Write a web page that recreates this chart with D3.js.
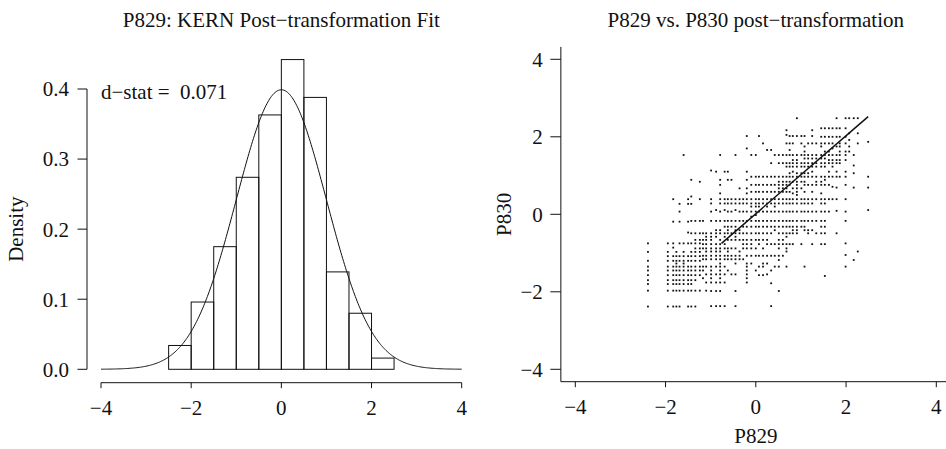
<!DOCTYPE html>
<html>
<head>
<meta charset="utf-8">
<script src="https://cdn.jsdelivr.net/npm/d3@7"></script>
<style>
  html, body { margin: 0; padding: 0; background: #fff; }
  svg { display: block; }
  text { font-family: "Liberation Serif", "Times New Roman", serif; fill: #111; }
</style>
</head>
<body>
<svg id="chart" width="946" height="449"></svg>
<script>
// ---- Histogram of P829 after transformation ----
const binEdges = [-2.5, -2, -1.5, -1, -0.5, 0, 0.5, 1, 1.5, 2, 2.5];
const binDensity = [0.034, 0.096, 0.175, 0.274, 0.363, 0.442, 0.388, 0.139, 0.080, 0.016];
const histXTicks = [-4, -2, 0, 2, 4];
const histYTicks = [0, 0.1, 0.2, 0.3, 0.4];
const fitMean = 0, fitSd = 1;
const dStat = "0.071";

// ---- Scatter P829 vs P830: points grouped by P829 value ----
const scatterX = [-2.39, -1.95, -1.83, -1.76, -1.69, -1.60, -1.50, -1.43, -1.34, -1.24, -1.17, -1.10,
  -0.99, -0.88, -0.79, -0.69, -0.62, -0.54, -0.45, -0.36, -0.28, -0.20, -0.10, 0.00, 0.07, 0.16,
  0.25, 0.34, 0.42, 0.51, 0.60, 0.68, 0.75, 0.82, 0.91, 1.01, 1.08, 1.16, 1.25, 1.34, 1.45, 1.53,
  1.62, 1.70, 1.79, 1.86, 1.99, 2.07, 2.17, 2.26, 2.49];
const scatterY = [
  [-0.75,-0.97,-1.2,-1.35,-1.45,-1.57,-1.7,-1.8,-1.97,-2.38],
  [-0.75,-0.97,-1.08,-1.2,-1.35,-1.45,-1.57,-1.7,-1.8,-1.97,-2.38],
  [0.39,-0.19,-0.75,-0.86,-1.08,-1.2,-1.35,-1.45,-1.57,-1.7,-1.8,-1.97,-2.38],
  [-0.97,-1.08,-1.2,-1.27,-1.35,-1.45,-1.57,-1.7,-1.8,-1.97,-2.38],
  [0.27,0.07,-0.19,-0.75,-1.08,-1.2,-1.35,-1.45,-1.57,-1.7,-1.8,-1.97,-2.38],
  [1.53,-0.75,-0.97,-1.08,-1.2,-1.27,-1.35,-1.45,-1.57,-1.7,-1.8,-1.97],
  [0.39,0.27,-0.19,-0.47,-0.75,-1.08,-1.2,-1.35,-1.45,-1.57,-1.7,-1.8,-1.97,-2.38],
  [0.89,0.46,0.27,-0.17,-0.49,-0.75,-0.97,-1.08,-1.2,-1.35,-1.45,-1.57,-1.7,-1.8,-1.97,-2.38],
  [-0.17,-0.49,-0.66,-0.75,-0.88,-0.97,-1.08,-1.2,-1.35,-1.45,-1.57,-1.7,-1.97,-2.38],
  [0.84,0.39,-0.17,-0.49,-0.66,-0.75,-0.88,-0.97,-1.08,-1.2,-1.35,-1.45,-1.57,-1.97],
  [-0.17,-0.49,-0.66,-0.77,-0.88,-1.07,-1.16,-1.35,-1.45,-1.65],
  [-0.49,-0.58,-0.66,-0.77,-0.88,-0.96,-1.07,-1.16,-1.35,-1.55,-1.76,-1.97],
  [1.13,0.39,0.28,0.07,-0.17,-0.49,-0.58,-0.66,-0.77,-0.88,-0.96,-1.07,-1.16,-1.35,-1.45,-1.55,-1.65,-1.76,-1.98,-2.37],
  [1.1,0.11,-0.17,-0.41,-0.49,-0.58,-0.77,-0.88,-0.96,-1.07,-1.16,-1.35,-1.55,-1.76,-1.98,-2.37],
  [1.53,0.89,0.76,0.54,0.39,0.28,0.07,-0.17,-0.41,-0.49,-0.66,-0.77,-0.88,-0.96,-1.07,-1.16,-1.27,-1.35,-1.45,-1.55,-1.65,-1.76,-1.98,-2.37],
  [1.1,0.39,0.28,0.11,-0.17,-0.32,-0.49,-0.58,-0.77,-0.88,-1.07,-1.16,-1.35,-1.55,-1.76,-2.37],
  [1.1,0.89,0.39,0.28,0.07,-0.17,-0.32,-0.41,-0.49,-0.66,-0.88,-0.96,-1.07,-1.16,-1.45],
  [0.89,0.39,0.28,0.07,-0.17,-0.32,-0.49,-0.66,-0.88,-1.07,-1.16,-1.55],
  [1.53,0.39,0.28,0.11,-0.17,-0.32,-0.41,-0.49,-0.58,-0.66,-0.88,-1.07,-1.16,-1.27,-1.55,-1.98,-2.37],
  [0.67,0.39,0.28,0.07,-0.17,-0.41,-0.49,-0.66,-0.96,-1.07,-1.16],
  [0.39,0.28,0.07,-0.17,-0.32,-0.49,-0.66,-0.77,-0.88,-1.16],
  [2.02,1.7,1.1,0.89,0.67,0.54,0.39,0.28,0.07,-0.17,-0.32,-0.49,-0.66,-0.77,-0.88,-1.07,-1.27,-1.35,-1.45,-1.55,-1.65,-1.76],
  [1.53,0.97,0.76,0.58,0.39,0.28,0.2,0.07,-0.06,-0.17,-0.32,-0.49,-0.66,-0.77,-0.88,-1.07,-1.27],
  [1.53,0.97,0.76,0.58,0.39,0.28,0.2,0.07,-0.02,-0.17,-0.32,-0.49,-0.66,-0.88,-1.07,-1.45],
  [2.02,0.97,0.76,0.58,0.39,0.28,0.2,0.07,-0.17,-0.32,-0.49,-0.66,-0.77,-1.07,-1.35,-1.57],
  [1.83,0.97,0.76,0.58,0.39,0.28,0.07,-0.17,-0.32,-0.49,-0.66,-0.88,-1.07,-1.27,-1.35,-1.57],
  [1.66,0.97,0.76,0.58,0.39,0.28,0.2,0.07,-0.17,-0.32,-0.49,-0.66,-0.77,-1.07,-1.27,-1.55],
  [1.66,1.32,0.97,0.76,0.58,0.39,0.28,0.07,-0.17,-0.32,-0.49,-0.77,-1.07,-1.45,-1.78,-2.37],
  [1.53,0.97,0.76,0.58,0.39,0.28,0.2,0.07,-0.17,-0.32,-0.41,-0.77,-1.07,-1.35],
  [1.53,1.32,0.97,0.84,0.76,0.67,0.58,0.39,0.28,0.07,-0.17,-0.32,-0.49,-0.66,-0.77,-0.88,-1.07,-1.18,-1.35,-1.98],
  [1.53,1.32,0.97,0.84,0.76,0.67,0.58,0.39,0.28,0.07,-0.17,-0.32,-0.49,-0.66,-0.77,-1.07],
  [2.17,2.05,1.83,1.53,1.32,1.23,0.97,0.84,0.76,0.67,0.58,0.39,0.28,0.07,-0.17,-0.32,-0.49,-0.58,-0.77,-0.88,-0.96,-1.35],
  [2.02,1.83,1.66,1.53,1.32,1.23,1.06,0.97,0.84,0.76,0.58,0.39,0.28,0.07,-0.17,-0.32,-0.49,-0.77],
  [2.02,1.83,1.53,1.4,1.32,1.23,1.1,0.97,0.84,0.67,0.54,0.39,0.28,0.07,-0.17,-0.32,-0.41,-0.49,-0.77],
  [2.48,2.02,1.53,1.4,1.32,1.23,1.06,0.97,0.84,0.76,0.67,0.58,0.5,0.39,0.28,0.07,-0.17,-0.32,-0.41,-0.49],
  [2.02,1.83,1.53,1.32,1.23,1.06,0.97,0.84,0.67,0.39,0.28,0.07,-0.17,-0.32,-0.77],
  [2.02,1.75,1.62,1.53,1.44,1.32,1.23,1.06,0.97,0.84,0.76,0.58,0.39,0.28,0.07,-0.17,-0.32,-0.41,-1.35],
  [1.83,1.53,1.44,1.32,1.23,1.06,0.97,0.76,0.39,0.28,0.07,-0.17,-0.41,-0.49],
  [2.17,2.02,1.83,1.53,1.44,1.32,1.23,1.1,0.97,0.76,0.58,0.39,0.28,0.07,-0.17,-0.41,-0.77],
  [1.83,1.53,1.44,1.32,1.23,0.97,0.84,0.76,0.39,0.07,-0.17,-0.49],
  [2.22,2.0,1.83,1.75,1.53,1.44,1.32,1.23,0.97,0.84,0.76,0.54,0.39,0.28,0.07,-0.17,-0.32,-0.49,-0.77],
  [2.22,2.0,1.83,1.62,1.53,1.44,1.32,1.23,0.97,0.89,0.76,0.39,0.28,0.07,-0.17,-0.32,-0.49,-0.77,-1.59],
  [2.22,2.0,1.83,1.62,1.53,1.4,1.32,1.1,0.97,0.76,0.39,0.07],
  [2.22,2.0,1.83,1.7,1.53,1.4,1.32,1.23,0.97,0.71,0.39],
  [2.48,2.22,2.0,1.75,1.53,1.4,1.32,1.1,0.97,0.69,0.39,0.09,-0.49],
  [2.22,2.0,1.83,1.75,1.62,1.53,1.4,1.32,0.97],
  [2.48,2.22,2.0,1.83,1.62,1.53,1.4,1.1,0.97,0.76,0.39,0.07,-0.17,-0.75,-1.05,-1.35],
  [2.48,2.09,1.92,1.75,1.62],
  [2.48,1.53,1.26,1.06,0.69,-1.18],
  [2.48,2.09,1.83,-0.96],
  [1.87,0.97,0.69,0.11]
];
// Run of coinciding values (P829 == P830), drawn as a dense segment
const tiedRun = [[-0.76, -0.75], [2.49, 2.52]];
const scatterTicks = [-4, -2, 0, 2, 4];

const svg = d3.select("#chart");
const fmt1 = d3.format(".1f");
const minus = s => String(s).replace("-", "\u2212");
const FS = 21;

// ================= Left panel: histogram =================
const xL = d3.scaleLinear().domain([-4, 4]).range([101, 461.7]);
const yL = d3.scaleLinear().domain([0, 0.4]).range([369.3, 89]);
const left = svg.append("g");

left.append("text")
  .attr("x", xL(0)).attr("y", 27)
  .attr("text-anchor", "middle").attr("font-size", FS)
  .text("P829: KERN Post\u2212transformation Fit");

const bins = binDensity.map((d, i) => ({ x0: binEdges[i], x1: binEdges[i + 1], d }));
left.append("g").selectAll("rect").data(bins).join("rect")
  .attr("x", b => xL(b.x0)).attr("width", b => xL(b.x1) - xL(b.x0))
  .attr("y", b => yL(b.d)).attr("height", b => yL(0) - yL(b.d))
  .attr("fill", "none").attr("stroke", "#111").attr("stroke-width", 1);

const normPdf = x => Math.exp(-0.5 * ((x - fitMean) / fitSd) ** 2) / (fitSd * Math.sqrt(2 * Math.PI));
const curveXs = d3.range(-4, 4.0001, 0.02);
left.append("path")
  .datum(curveXs)
  .attr("d", d3.line().x(x => xL(x)).y(x => yL(normPdf(x))))
  .attr("fill", "none").attr("stroke", "#111").attr("stroke-width", 1);

left.append("text")
  .attr("x", xL(-4)).attr("y", 99).attr("font-size", FS)
  .attr("xml:space", "preserve")
  .text("d\u2212stat =  " + dStat);

// y axis
const yAxL = left.append("g").attr("transform", "translate(87,0)");
yAxL.append("line").attr("y1", yL(0)).attr("y2", yL(0.4)).attr("stroke", "#111");
yAxL.selectAll(".t").data(histYTicks).join("line")
  .attr("x1", -9.5).attr("x2", 0).attr("y1", d => yL(d)).attr("y2", d => yL(d)).attr("stroke", "#111");
yAxL.selectAll("text").data(histYTicks).join("text")
  .attr("x", -18).attr("y", d => yL(d)).attr("dy", "0.35em")
  .attr("text-anchor", "end").attr("font-size", FS).text(d => fmt1(d));

left.append("text")
  .attr("transform", `translate(23,${yL(0.2)}) rotate(-90)`)
  .attr("text-anchor", "middle").attr("font-size", FS).text("Density");

// x axis
const xAxL = left.append("g").attr("transform", "translate(0,382.7)");
xAxL.append("line").attr("x1", xL(-4)).attr("x2", xL(4)).attr("stroke", "#111");
xAxL.selectAll(".t").data(histXTicks).join("line")
  .attr("x1", d => xL(d)).attr("x2", d => xL(d)).attr("y1", 0).attr("y2", 5.5).attr("stroke", "#111");
xAxL.selectAll("text").data(histXTicks).join("text")
  .attr("x", d => xL(d)).attr("y", 32.5).attr("text-anchor", "middle")
  .attr("font-size", FS).text(d => minus(d));

// ================= Right panel: scatter =================
const xR = d3.scaleLinear().domain([-4, 4]).range([575.3, 936.3]);
const yR = d3.scaleLinear().domain([-4, 4]).range([369.3, 59.3]);
const right = svg.append("g");

right.append("text")
  .attr("x", xR(0)).attr("y", 27)
  .attr("text-anchor", "middle").attr("font-size", FS)
  .text("P829 vs. P830 post\u2212transformation");

const pts = [];
scatterX.forEach((x, i) => scatterY[i].forEach(y => pts.push([x, y])));
const ps = 1.8;
right.append("g").selectAll("rect").data(pts).join("rect")
  .attr("x", d => xR(d[0]) - ps / 2).attr("y", d => yR(d[1]) - ps / 2)
  .attr("width", ps).attr("height", ps).attr("fill", "#111");

right.append("path")
  .datum(tiedRun)
  .attr("d", d3.line().x(d => xR(d[0])).y(d => yR(d[1])))
  .attr("fill", "none").attr("stroke", "#111").attr("stroke-width", 1.5);

// L-shaped frame
const frameLeft = xR(-4.32), frameTop = yR(4.32), frameBottom = yR(-4.32);
right.append("path")
  .attr("d", `M${frameLeft},${frameTop}V${frameBottom}H${xR(4.4)}`)
  .attr("fill", "none").attr("stroke", "#111");

right.selectAll(".xt").data(scatterTicks).join("line")
  .attr("x1", d => xR(d)).attr("x2", d => xR(d))
  .attr("y1", frameBottom).attr("y2", frameBottom + 5.5).attr("stroke", "#111");
right.selectAll(".xl").data(scatterTicks).join("text")
  .attr("x", d => xR(d)).attr("y", frameBottom + 32.5).attr("text-anchor", "middle")
  .attr("font-size", FS).text(d => minus(d));

right.selectAll(".yt").data(scatterTicks).join("line")
  .attr("x1", frameLeft - 10.5).attr("x2", frameLeft)
  .attr("y1", d => yR(d)).attr("y2", d => yR(d)).attr("stroke", "#111");
right.selectAll(".yl").data(scatterTicks).join("text")
  .attr("x", frameLeft - 18).attr("y", d => yR(d)).attr("dy", "0.35em")
  .attr("text-anchor", "end").attr("font-size", FS).text(d => minus(d));

right.append("text")
  .attr("x", xR(0)).attr("y", 443).attr("text-anchor", "middle")
  .attr("font-size", FS).text("P829");
right.append("text")
  .attr("transform", `translate(511,${yR(0)}) rotate(-90)`)
  .attr("text-anchor", "middle").attr("font-size", FS).text("P830");
</script>
</body>
</html>
